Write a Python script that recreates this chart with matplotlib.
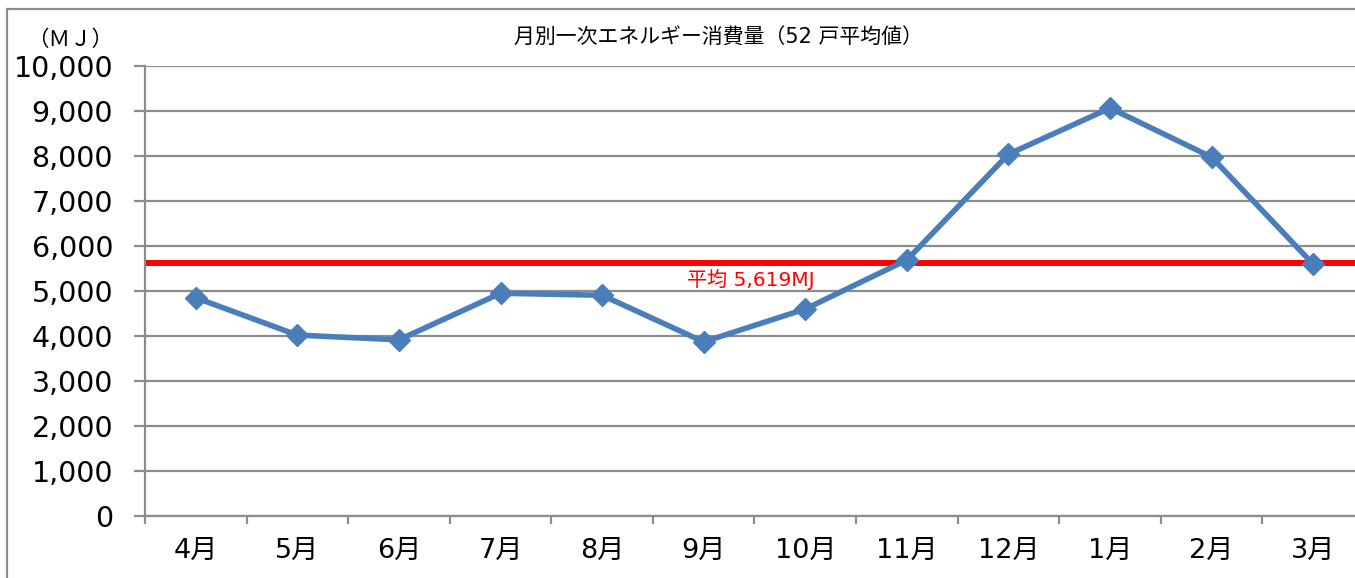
import matplotlib
matplotlib.use("Agg")
import matplotlib.pyplot as plt
from matplotlib.patches import Rectangle

plt.rcParams['font.family'] = ['Noto Sans CJK JP', 'DejaVu Sans']

months = ['4月', '5月', '6月', '7月', '8月', '9月', '10月', '11月', '12月', '1月', '2月', '3月']
values = [4850, 4020, 3915, 4950, 4905, 3870, 4600, 5690, 8040, 9065, 7975, 5595]
average = 5619
yticks = [0, 1000, 2000, 3000, 4000, 5000, 6000, 7000, 8000, 9000, 10000]
title = '月別一次エネルギー消費量（52 戸平均値）'
ylabel = '（ＭＪ）'
avg_label = '平均 5,619MJ'

W, H = 1355, 578
fig = plt.figure(figsize=(W / 100, H / 100), dpi=100)

# outer frame
fig.patches.append(Rectangle((7 / W, -0.1), 1.2, 1 - 9 / H + 0.1, transform=fig.transFigure,
                             fill=False, edgecolor='#8c8c8c', linewidth=1.6, zorder=0))

left = 145 / W
right = 1364 / W
bottom = 1 - 516 / H
top = 1 - 66 / H
ax = fig.add_axes([left, bottom, right - left, top - bottom])

mixed = ['DejaVu Sans', 'Noto Sans CJK JP']

x = list(range(len(months)))
ax.set_xlim(-0.5, len(months) - 0.5)
ax.set_ylim(0, 10000)
ax.set_yticks(yticks)
ax.set_yticklabels([f'{v:,}' for v in yticks], fontsize=20.5, family='DejaVu Sans')
ax.set_xticks(x)
ax.set_xticklabels(months, fontsize=19.5, family=mixed)
ax.set_xticks([i - 0.5 for i in range(len(months) + 1)], minor=True)
ax.tick_params(axis='x', which='major', length=0, pad=16)
ax.tick_params(axis='x', which='minor', length=6, width=1.6, color='#8c8c8c', direction='out')
ax.tick_params(axis='y', length=8, width=1.6, color='#8c8c8c', pad=15)

ax.grid(axis='y', color='#8c8c8c', linewidth=1.6)
ax.set_axisbelow(True)
for s in ['top', 'right']:
    ax.spines[s].set_visible(False)
for s in ['left', 'bottom']:
    ax.spines[s].set_color('#8c8c8c')
    ax.spines[s].set_linewidth(1.6)

ax.axhline(average, color='#ff0000', linewidth=4.3, zorder=2)
ax.plot(x, values, color='#4a7ebb', linewidth=4, marker='D', markersize=11.5,
        markerfacecolor='#4a7ebb', markeredgecolor='#4a7ebb', zorder=3, clip_on=False)

ax.text(5.46, average - 140, avg_label, color='#ff0000', fontsize=14.5, ha='center', va='top',
        zorder=4, family=mixed)

fig.text(718 / W, 1 - 38 / H, title, fontsize=15, ha='center', va='center', family=mixed)
fig.text(70 / W, 1 - 40 / H, ylabel, fontsize=15.5, ha='center', va='center')

fig.savefig('out.png', dpi=100)
